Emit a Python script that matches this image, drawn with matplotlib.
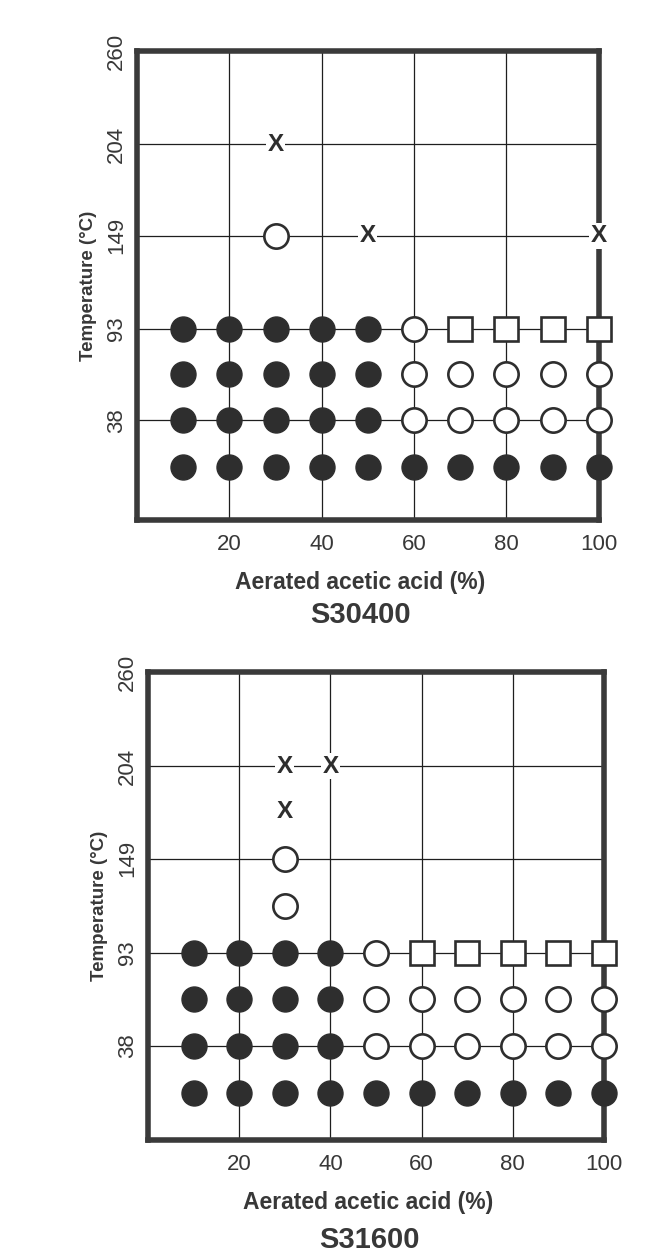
import matplotlib.pyplot as plt

plt.rcParams['font.family'] = ['Liberation Sans', 'DejaVu Sans']

# acid concentration (%) and temperature rows (deg C) of the test matrix
acid = [10, 20, 30, 40, 50, 60, 70, 80, 90, 100]
temp_rows = [10, 38, 66, 93]
# F = filled circle, O = open circle, S = open square
s30400_rows = ["FFFFFFFFFF",
               "FFFFFOOOOO",
               "FFFFFOOOOO",
               "FFFFFOSSSS"]
s30400_extra_acid = [30, 50, 100, 30]
s30400_extra_temp = [149, 149, 149, 204]
s30400_extra_code = ["O", "X", "X", "X"]

s31600_rows = ["FFFFFFFFFF",
               "FFFFOOOOOO",
               "FFFFOOOOOO",
               "FFFFOSSSSS"]
s31600_extra_acid = [30, 30, 30, 30, 40]
s31600_extra_temp = [121, 149, 177, 204, 204]
s31600_extra_code = ["O", "O", "X", "X", "X"]

x_ticks = [20, 40, 60, 80, 100]
y_ticks = [38, 93, 149, 204, 260]

ink = '#2e2e2e'
txt = '#383838'


def mark(ax, x, y, code):
    if code == 'F':
        ax.plot(x, y, 'o', ms=18, mfc=ink, mec=ink, zorder=3, clip_on=False)
    elif code == 'O':
        ax.plot(x, y, 'o', ms=17.5, mfc='white', mec=ink, mew=1.9,
                zorder=3, clip_on=False)
    elif code == 'S':
        ax.plot(x, y, 's', ms=17.5, mfc='white', mec=ink, mew=1.9,
                zorder=3, clip_on=False)
    else:
        ax.text(x, y, 'X', ha='center', va='center', fontsize=17.5,
                fontweight='bold', color=ink, zorder=4,
                bbox=dict(fc='white', ec='none', pad=1.0))


def panel(rect, ylo, rows, ex_acid, ex_temp, ex_code):
    ax = fig.add_axes(rect)
    for t, row in zip(temp_rows, rows):
        for a, c in zip(acid, row):
            mark(ax, a, t, c)
    for a, t, c in zip(ex_acid, ex_temp, ex_code):
        mark(ax, a, t, c)
    ax.set_xlim(0, 100)
    ax.set_ylim(ylo, 260)
    ax.set_xticks(x_ticks)
    ax.set_yticks(y_ticks)
    ax.tick_params(length=0, labelsize=16, colors=txt)
    ax.tick_params(axis='x', pad=10)
    ax.tick_params(axis='y', pad=7)
    for lab in ax.get_yticklabels():
        lab.set_rotation(90)
        lab.set_va('center')
    ax.grid(True, color='#1e1e1e', lw=0.9)
    ax.set_axisbelow(True)
    for s in ax.spines.values():
        s.set_linewidth(4)
        s.set_color('#3a3a3a')
    ax.set_xlabel('Aerated acetic acid (%)', fontsize=16.5, fontweight='bold',
                  color=txt, va='center')
    ax.xaxis.set_label_coords(0.483, -0.133)
    ax.set_ylabel('Temperature (°C)', fontsize=13.5, fontweight='bold',
                  color=txt, labelpad=7)
    return ax


fig = plt.figure(figsize=(6.57, 12.56), dpi=100)
panel([0.2085, 0.586, 0.703, 0.3734], -22, s30400_rows, s30400_extra_acid,
      s30400_extra_temp, s30400_extra_code)
fig.text(0.549, 0.5104, 'S30400', ha='center', va='center', fontsize=21,
         fontweight='bold', color=txt)
panel([0.2253, 0.0924, 0.694, 0.3726], -18, s31600_rows, s31600_extra_acid,
      s31600_extra_temp, s31600_extra_code)
fig.text(0.563, 0.0127, 'S31600', ha='center', va='center', fontsize=21,
         fontweight='bold', color=txt)
fig.savefig('out.png', dpi=100)
